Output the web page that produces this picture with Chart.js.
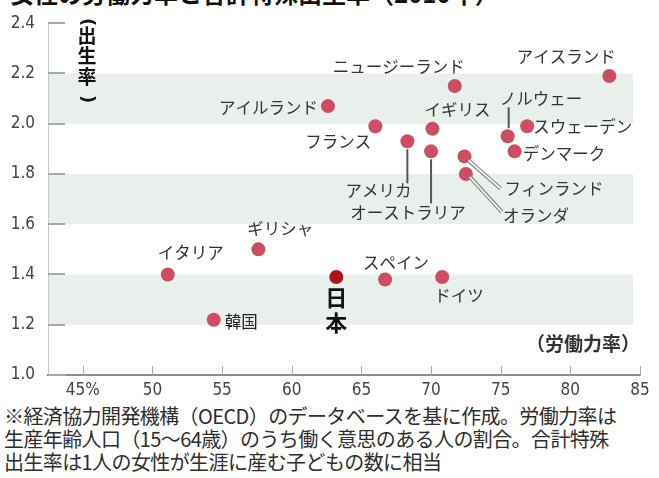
<!DOCTYPE html>
<html lang="ja">
<head>
<meta charset="utf-8">
<script src="https://cdn.jsdelivr.net/npm/chart.js@4/dist/chart.umd.min.js"></script>
<style>
  body { margin: 0; background: #fff; }
  #wrap { position: relative; width: 659px; height: 478px; overflow: hidden; background: #fff; }
  #chart { position: absolute; left: 0; top: 0; }
  #title { position: absolute; left: 10px; top: -19px; font: bold 24px "Noto Sans CJK JP"; line-height: 24px; color: #111; white-space: pre; }
  #note { position: absolute; left: 4px; top: 404px; font: 20px "Noto Sans CJK JP"; line-height: 23px; color: #2e2e2e; white-space: pre; letter-spacing: -0.6px; }
</style>
</head>
<body>
<div id="wrap">
  <div id="title">女性の労働力率と合計特殊出生率（2010年）</div>
  <canvas id="chart" width="659" height="400"></canvas>
  <div id="note">※経済協力開発機構（OECD）のデータベースを基に作成。労働力率は
生産年齢人口（15～64歳）のうち働く意思のある人の割合。合計特殊
出生率は1人の女性が生涯に産む子どもの数に相当</div>
</div>
<script>
// countries and their values (labour force rate %, fertility rate)
const countries = ['アイスランド', 'ニュージーランド', 'アイルランド', 'フランス', 'イギリス', 'アメリカ', 'オーストラリア', 'ノルウェー', 'スウェーデン', 'デンマーク', 'フィンランド', 'オランダ', 'ギリシャ', 'イタリア', '韓国', 'スペイン', 'ドイツ', '日本'];
const laborRate = [82.8, 71.7, 62.6, 66.0, 70.1, 68.3, 70.0, 75.5, 76.9, 76.0, 72.4, 72.5, 57.6, 51.1, 54.4, 66.7, 70.8, 63.2];
const birthRate = [2.19, 2.15, 2.07, 1.99, 1.98, 1.93, 1.89, 1.95, 1.99, 1.89, 1.87, 1.80, 1.50, 1.40, 1.22, 1.38, 1.39, 1.39];
const xTicks = [45, 50, 55, 60, 65, 70, 75, 80, 85];
const yTicks = [1.0, 1.2, 1.4, 1.6, 1.8, 2.0, 2.2, 2.4];
const bands = [[1.2, 1.4], [1.6, 1.8], [2.0, 2.2]];

// where each name sits relative to its dot, plus leader lines
const labelPos = {
  'アイスランド': { dx: -43, dy: -19, align: 'center' },
  'ニュージーランド': { dx: -56, dy: -19, align: 'center' },
  'アイルランド': { dx: -10, dy: 2, align: 'right' },
  'フランス': { dx: -4, dy: 16, align: 'right' },
  'イギリス': { dx: -8, dy: -19, align: 'left' },
  'アメリカ': { dx: -29, dy: 49, align: 'center', lead: [0, 8, 0, 42] },
  'オーストラリア': { dx: -23, dy: 61, align: 'center', lead: [0, 8, 0, 52] },
  'ノルウェー': { dx: -8, dy: -38, align: 'left', lead: [1, -8, 1, -29] },
  'スウェーデン': { dx: 6, dy: 1, align: 'left' },
  'デンマーク': { dx: 8, dy: 2, align: 'left' },
  'フィンランド': { dx: 40, dy: 32, align: 'left', lead: [4, 4, 36, 32], dbl: true },
  'オランダ': { dx: 37, dy: 42, align: 'left', lead: [4, 3, 36, 38], dbl: true },
  'ギリシャ': { dx: -11, dy: -21, align: 'left' },
  'イタリア': { dx: -10, dy: -22, align: 'left' },
  '韓国': { dx: 11, dy: 2, align: 'left' },
  'スペイン': { dx: 11, dy: -17, align: 'center' },
  'ドイツ': { dx: -8, dy: 19, align: 'left' }
};

const numFont = '"DejaVu Sans Condensed", "Liberation Sans Narrow", sans-serif';
const jpFont = '"Noto Sans CJK JP", sans-serif';

function pointsFor(test) {
  const pts = [];
  countries.forEach((c, i) => {
    if (test(c)) pts.push({ x: laborRate[i], y: birthRate[i], name: c });
  });
  return pts;
}

const bandPlugin = {
  id: 'bands',
  beforeDatasetsDraw(chart) {
    const { ctx, chartArea, scales: { x, y } } = chart;
    ctx.save();
    ctx.fillStyle = '#e9efeb';
    bands.forEach(([lo, hi]) => {
      const top = y.getPixelForValue(hi), bot = y.getPixelForValue(lo);
      const right = x.getPixelForValue(84.5);
      ctx.fillRect(chartArea.left + 1, top, right - chartArea.left - 1, bot - top);
    });
    // short ticks inside the axes
    ctx.strokeStyle = '#a8a8a8';
    ctx.lineWidth = 2;
    yTicks.forEach(v => {
      const py = Math.round(y.getPixelForValue(v));
      ctx.beginPath();
      ctx.moveTo(chartArea.left, py);
      ctx.lineTo(chartArea.left + 17, py);
      ctx.stroke();
    });
    ctx.lineWidth = 1;
    xTicks.forEach(v => {
      const px = Math.round(x.getPixelForValue(v)) + 0.5;
      ctx.beginPath();
      ctx.moveTo(px, chartArea.bottom);
      ctx.lineTo(px, chartArea.bottom - 9);
      ctx.stroke();
    });
    ctx.restore();
  }
};

// draws a character turned a quarter turn, for the vertical title's brackets
function turnedChar(ctx, ch, x, y) {
  ctx.save();
  ctx.translate(x, y);
  ctx.rotate(Math.PI / 2);
  ctx.textAlign = 'center';
  ctx.textBaseline = 'middle';
  ctx.fillText(ch, 0, 0);
  ctx.restore();
}

const labelPlugin = {
  id: 'names',
  afterDatasetsDraw(chart) {
    const { ctx } = chart;
    ctx.save();
    chart.data.datasets.forEach((ds, di) => {
      const meta = chart.getDatasetMeta(di);
      ds.data.forEach((d, j) => {
        const el = meta.data[j];
        if (d.name === '日本') {
          ctx.font = 'bold 22px ' + jpFont;
          ctx.fillStyle = '#111';
          ctx.textAlign = 'center';
          ctx.textBaseline = 'middle';
          ctx.fillText('日', el.x, el.y + 21);
          ctx.fillText('本', el.x, el.y + 46);
          return;
        }
        const p = labelPos[d.name];
        if (p.lead) {
          const [x1, y1, x2, y2] = p.lead;
          ctx.beginPath();
          ctx.moveTo(el.x + x1, el.y + y1);
          ctx.lineTo(el.x + x2, el.y + y2);
          if (p.dbl) {
            ctx.strokeStyle = '#8a8a8a';
            ctx.lineWidth = 4;
            ctx.stroke();
            ctx.strokeStyle = '#fff';
            ctx.lineWidth = 1.5;
            ctx.stroke();
          } else {
            ctx.strokeStyle = '#555';
            ctx.lineWidth = 2;
            ctx.stroke();
          }
        }
        ctx.font = '16.5px ' + jpFont;
        ctx.fillStyle = d.name === '韓国' ? '#222' : '#333';
        ctx.textAlign = p.align;
        ctx.textBaseline = 'middle';
        ctx.fillText(d.name, el.x + p.dx, el.y + p.dy);
      });
    });

    // axis titles
    ctx.fillStyle = '#111';
    ctx.textAlign = 'center';
    ctx.textBaseline = 'middle';
    ctx.font = 'bold 19px ' + jpFont;
    const cx = 87;
    [['出', 36], ['生', 56], ['率', 77]].forEach(([ch, py]) => ctx.fillText(ch, cx, py));
    ctx.font = 'bold 18px "DejaVu Sans", sans-serif';
    turnedChar(ctx, '(', cx, 22);
    turnedChar(ctx, ')', cx, 99);
    ctx.font = 'bold 19px ' + jpFont;
    ctx.fillStyle = '#333';
    ctx.textAlign = 'right';
    ctx.fillText('（労働力率）', 640, 344);
    ctx.restore();
  }
};

new Chart(document.getElementById('chart'), {
  type: 'scatter',
  data: {
    datasets: [
      {
        data: pointsFor(c => c !== '日本'),
        backgroundColor: '#cf4d63',
        borderWidth: 0,
        pointRadius: 7,
        pointHoverRadius: 7
      },
      {
        data: pointsFor(c => c === '日本'),
        backgroundColor: '#b0121e',
        borderWidth: 0,
        pointRadius: 7,
        pointHoverRadius: 7
      }
    ]
  },
  options: {
    responsive: false,
    animation: false,
    events: [],
    layout: { padding: { top: 18, right: 19, left: 0, bottom: 0 } },
    plugins: { legend: { display: false }, tooltip: { enabled: false } },
    scales: {
      x: {
        type: 'linear',
        min: 42.5,
        max: 85,
        afterBuildTicks: s => { s.ticks = xTicks.map(v => ({ value: v })); },
        afterFit: s => { s.height = 25; },
        grid: { display: false, drawTicks: false },
        border: { display: true, color: '#8c8c8c', width: 2 },
        ticks: {
          padding: 5,
          color: '#444',
          font: { family: numFont, size: 17 },
          callback: v => (v === 45 ? '45%' : String(v))
        }
      },
      y: {
        min: 1.0,
        max: 2.4,
        afterBuildTicks: s => { s.ticks = yTicks.map(v => ({ value: v })); },
        afterFit: s => { s.width = 48; },
        grid: { display: false, drawTicks: false },
        border: { display: true, color: '#c8c8c8', width: 1 },
        ticks: {
          padding: 13,
          color: '#444',
          font: { family: numFont, size: 17 },
          callback: v => v.toFixed(1)
        }
      }
    }
  },
  plugins: [bandPlugin, labelPlugin]
});
</script>
</body>
</html>
